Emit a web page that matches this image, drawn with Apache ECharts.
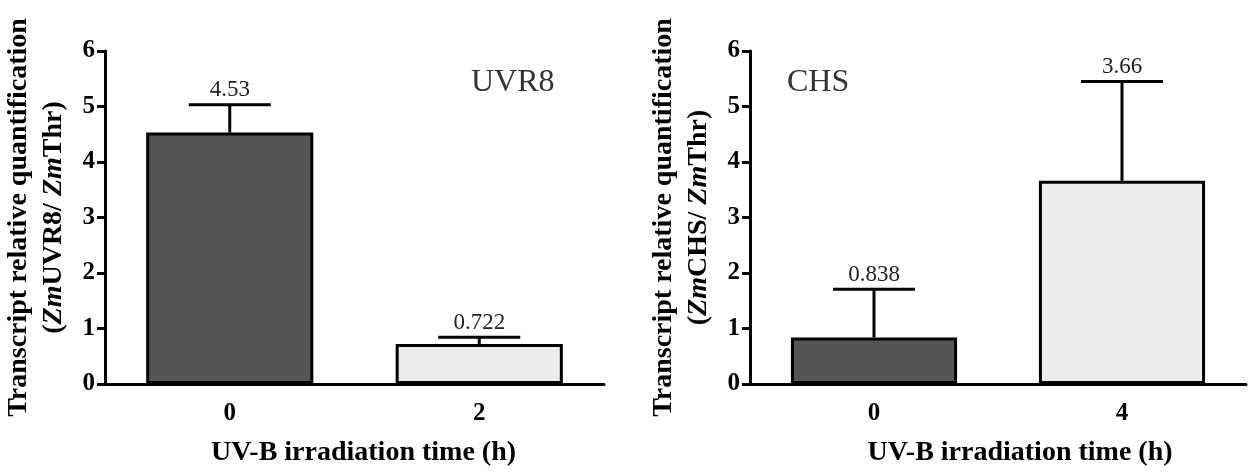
<!DOCTYPE html>
<html>
<head>
    <meta charset="UTF-8">
    <title>UVR8 / CHS transcript</title>
    <script src="https://cdn.jsdelivr.net/npm/echarts@6.0.0/dist/echarts.min.js"></script>
    <style>
        html, body { margin: 0; padding: 0; background: #fff; }
        #main { width: 1248px; height: 472px; }
    </style>
</head>
<body>
<div id="main"></div>
<script type="text/javascript">
    // 数据
    var uvr8Times = ['0', '2'];
    var uvr8Mean = [4.53, 0.722];
    var uvr8Err = [0.50, 0.12];

    var chsTimes = ['0', '4'];
    var chsMean = [0.838, 3.66];
    var chsErr = [0.87, 1.79];

    var barColors = ['#555555', '#ececec'];
    var yTicks = { min: 0, max: 6, interval: 1 };

    var serif = 'Liberation Serif, Times New Roman, serif';

    function errData(mean, err) {
        var out = [];
        for (var i = 0; i < mean.length; i++) {
            out.push([i, mean[i], mean[i] + err[i]]);
        }
        return out;
    }

    function barData(mean) {
        return mean.map(function (v, i) {
            return { value: v, itemStyle: { color: barColors[i] } };
        });
    }

    // error bar + value label on top
    function renderErr(params, api) {
        var idx = api.value(0);
        var mean = api.value(1);
        var hi = api.value(2);
        var p0 = api.coord([idx, mean]);
        var p1 = api.coord([idx, hi]);
        var half = 41;
        var style = { stroke: '#000', lineWidth: 3 };
        return {
            type: 'group',
            children: [
                { type: 'line', shape: { x1: p0[0], y1: p0[1], x2: p1[0], y2: p1[1] }, style: style },
                { type: 'line', shape: { x1: p1[0] - half, y1: p1[1], x2: p1[0] + half, y2: p1[1] }, style: style },
                {
                    type: 'text',
                    x: p1[0], y: p1[1] - 3,
                    style: {
                        text: String(mean),
                        align: 'center', verticalAlign: 'bottom',
                        font: '23px ' + serif, fill: '#222'
                    }
                }
            ]
        };
    }

    function yAxisCfg(gridIndex, gene) {
        return {
            type: 'value', gridIndex: gridIndex,
            min: yTicks.min, max: yTicks.max, interval: yTicks.interval,
            name: '{b|Transcript relative quantification}\n{b|(}{i|Zm}{b|' + gene + '/ }{i|Zm}{b|Thr)}',
            nameLocation: 'middle', nameRotate: 90, nameGap: 34,
            nameTextStyle: {
                align: 'center', lineHeight: 35,
                rich: {
                    b: { fontFamily: serif, fontWeight: 'bold', fontSize: 28, color: '#000', lineHeight: 35 },
                    i: { fontFamily: serif, fontWeight: 'bold', fontStyle: 'italic', fontSize: 28, color: '#000', lineHeight: 35 }
                }
            },
            axisLine: { show: true, lineStyle: { color: '#000', width: 3 } },
            axisTick: { show: true, length: 8, lineStyle: { color: '#000', width: 3 } },
            axisLabel: { fontFamily: serif, fontWeight: 'bold', fontSize: 25, color: '#000', margin: 10 },
            splitLine: { show: false }
        };
    }

    function xAxisCfg(gridIndex, cats, shift) {
        return {
            type: 'category', gridIndex: gridIndex, data: cats,
            name: 'UV-B irradiation time (h)',
            nameLocation: 'middle', nameGap: 55,
            nameTextStyle: {
                fontFamily: serif, fontWeight: 'bold', fontSize: 28, color: '#000',
                padding: [0, 0, 0, shift * 2]
            },
            axisLine: { lineStyle: { color: '#000', width: 3 } },
            axisTick: { alignWithLabel: true, length: 8, lineStyle: { color: '#000', width: 3 } },
            axisLabel: { fontFamily: serif, fontWeight: 'bold', fontSize: 25, color: '#000', margin: 17 }
        };
    }

    var myChart = echarts.init(document.getElementById('main'), null, { renderer: 'canvas' });

    var option = {
        backgroundColor: '#fff',
        animation: false,
        title: [
            { text: 'UVR8', left: 466, top: 62, textStyle: { fontFamily: serif, fontWeight: 'normal', fontSize: 32, color: '#333' } },
            { text: 'CHS', left: 782, top: 62, textStyle: { fontFamily: serif, fontWeight: 'normal', fontSize: 32, color: '#333' } }
        ],
        grid: [
            { left: 105, width: 499, top: 51, bottom: 88 },
            { left: 750, right: 2, top: 51, bottom: 88 }
        ],
        xAxis: [xAxisCfg(0, uvr8Times, 9), xAxisCfg(1, chsTimes, 22)],
        yAxis: [yAxisCfg(0, 'UVR8'), yAxisCfg(1, 'CHS')],
        series: [
            {
                type: 'bar', xAxisIndex: 0, yAxisIndex: 0, barWidth: '67%',
                data: barData(uvr8Mean),
                itemStyle: { borderColor: '#000', borderWidth: 3 }
            },
            {
                type: 'custom', xAxisIndex: 0, yAxisIndex: 0, z: 3,
                renderItem: renderErr, encode: { x: 0, y: [1, 2] },
                data: errData(uvr8Mean, uvr8Err)
            },
            {
                type: 'bar', xAxisIndex: 1, yAxisIndex: 1, barWidth: '67%',
                data: barData(chsMean),
                itemStyle: { borderColor: '#000', borderWidth: 3 }
            },
            {
                type: 'custom', xAxisIndex: 1, yAxisIndex: 1, z: 3,
                renderItem: renderErr, encode: { x: 0, y: [1, 2] },
                data: errData(chsMean, chsErr)
            }
        ]
    };
    myChart.setOption(option);
</script>
</body>
</html>
